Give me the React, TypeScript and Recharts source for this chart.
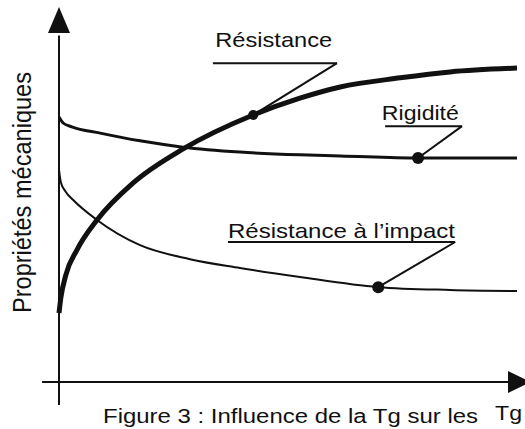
import React from "react";
import { LineChart, Line, XAxis, YAxis, ReferenceLine, ReferenceDot } from "recharts";

// Courbes (x = Tg relative, y = propriété relative, 0..100)
const resistance = [
  { x: 0, y: 19.7 },
  { x: 0.4, y: 24.0 },
  { x: 1.5, y: 30.6 },
  { x: 3.9, y: 37.7 },
  { x: 8.3, y: 46.3 },
  { x: 16.2, y: 56.9 },
  { x: 27.1, y: 66.6 },
  { x: 42.4, y: 76.3 },
  { x: 52.6, y: 81.1 },
  { x: 61.4, y: 84.3 },
  { x: 74.5, y: 86.9 },
  { x: 85.4, y: 88.6 },
  { x: 100, y: 89.7 },
];

const rigidite = [
  { x: 0, y: 75.7 },
  { x: 0.9, y: 74.0 },
  { x: 2.8, y: 72.9 },
  { x: 9.0, y: 71.1 },
  { x: 17.7, y: 68.9 },
  { x: 27.1, y: 67.1 },
  { x: 39.5, y: 65.7 },
  { x: 52.6, y: 64.9 },
  { x: 61.4, y: 64.6 },
  { x: 78.4, y: 64.0 },
  { x: 100, y: 64.0 },
];

const impact = [
  { x: 0, y: 60.6 },
  { x: 0.4, y: 57.1 },
  { x: 1.5, y: 54.3 },
  { x: 3.1, y: 52.0 },
  { x: 8.3, y: 46.3 },
  { x: 17.7, y: 39.1 },
  { x: 28.6, y: 35.1 },
  { x: 39.5, y: 32.6 },
  { x: 52.6, y: 30.0 },
  { x: 69.7, y: 27.1 },
  { x: 85.4, y: 26.3 },
  { x: 100, y: 26.0 },
];

const seriesNames = ["Résistance", "Rigidité", "Résistance à l’impact"];
const markers = [
  { x: 42.4, y: 76.3 },
  { x: 78.4, y: 64.0 },
  { x: 69.7, y: 27.1 },
];

// placement des étiquettes et des traits de rappel (coordonnées du graphique)
const labelLayout = [
  { tx: 34.1, ty: 95.7, len: 117, x1: 33.6, x2: 60.7, uy: 91.1, r: 5 },
  { tx: 70.5, ty: 74.9, len: 77, x1: 71.2, x2: 88.0, uy: 73.1, r: 6 },
  { tx: 36.9, ty: 41.1, len: 227, x1: 36.9, x2: 86.5, uy: 40.0, r: 6 },
];

const INK = "#111";
const FONT = "'Liberation Sans', Arial, Helvetica, sans-serif";

export default function App() {
  return (
    <div style={{ position: "absolute", left: 0, top: 0, width: 525, height: 429, background: "#fff", overflow: "hidden" }}>
      <LineChart width={525} height={429} margin={{ top: 32, right: 8, bottom: 47, left: 59 }}>
        <XAxis type="number" dataKey="x" domain={[0, 100]} hide />
        <YAxis type="number" domain={[0, 100]} hide />

        {/* axes avec flèches */}
        <ReferenceLine segment={[{ x: -3.7, y: 0 }, { x: 102, y: 0 }]} stroke={INK} strokeWidth={2} ifOverflow="visible" />
        <ReferenceLine segment={[{ x: 0, y: -6.6 }, { x: 0, y: 99 }]} stroke={INK} strokeWidth={2} ifOverflow="visible" />
        <ReferenceDot
          x={100}
          y={0}
          r={0}
          ifOverflow="visible"
          shape={(p: any) => (
            <polygon points={`${p.cx - 9},${p.cy - 11} ${p.cx + 14},${p.cy} ${p.cx - 9},${p.cy + 11}`} fill={INK} />
          )}
        />
        <ReferenceDot
          x={0}
          y={100}
          r={0}
          ifOverflow="visible"
          shape={(p: any) => (
            <polygon points={`${p.cx - 11},${p.cy + 1} ${p.cx},${p.cy - 25} ${p.cx + 11},${p.cy + 1}`} fill={INK} />
          )}
        />

        <Line data={impact} dataKey="y" type="monotone" stroke={INK} strokeWidth={2} dot={false} isAnimationActive={false} />
        <Line data={rigidite} dataKey="y" type="monotone" stroke={INK} strokeWidth={3} dot={false} isAnimationActive={false} />
        <Line data={resistance} dataKey="y" type="monotone" stroke={INK} strokeWidth={5} dot={false} isAnimationActive={false} />

        {labelLayout.map((l, i) => (
          <ReferenceLine
            key={`u${i}`}
            segment={[{ x: l.x1, y: l.uy }, { x: l.x2, y: l.uy }]}
            stroke={INK}
            strokeWidth={2}
          />
        ))}
        {labelLayout.map((l, i) => (
          <ReferenceLine
            key={`d${i}`}
            segment={[{ x: l.x2, y: l.uy }, markers[i]]}
            stroke={INK}
            strokeWidth={2}
          />
        ))}
        {markers.map((m, i) => (
          <ReferenceDot key={`m${i}`} x={m.x} y={m.y} r={labelLayout[i].r} fill={INK} stroke="none" />
        ))}
        {labelLayout.map((l, i) => (
          <ReferenceDot
            key={`t${i}`}
            x={l.tx}
            y={l.ty}
            r={0}
            shape={(p: any) => (
              <text
                x={p.cx}
                y={p.cy}
                fontFamily={FONT}
                fontSize={21}
                fill={INK}
                textLength={l.len}
                lengthAdjust="spacingAndGlyphs"
              >
                {seriesNames[i]}
              </text>
            )}
          />
        ))}
      </LineChart>

      <svg width={525} height={429} style={{ position: "absolute", left: 0, top: 0, pointerEvents: "none" }}>
        <text
          transform="translate(31,313) scale(1.12,1) rotate(-90)"
          fontFamily={FONT}
          fontSize={23}
          fill={INK}
          textLength={241}
          lengthAdjust="spacingAndGlyphs"
        >
          Propriétés mécaniques
        </text>
        <text x={495} y={420} fontFamily={FONT} fontSize={20} fill={INK} textLength={27} lengthAdjust="spacingAndGlyphs">
          Tg
        </text>
        <text x={103} y={423} fontFamily={FONT} fontSize={20} fill={INK} textLength={375} lengthAdjust="spacingAndGlyphs">
          Figure 3 : Influence de la Tg sur les
        </text>
      </svg>
    </div>
  );
}
